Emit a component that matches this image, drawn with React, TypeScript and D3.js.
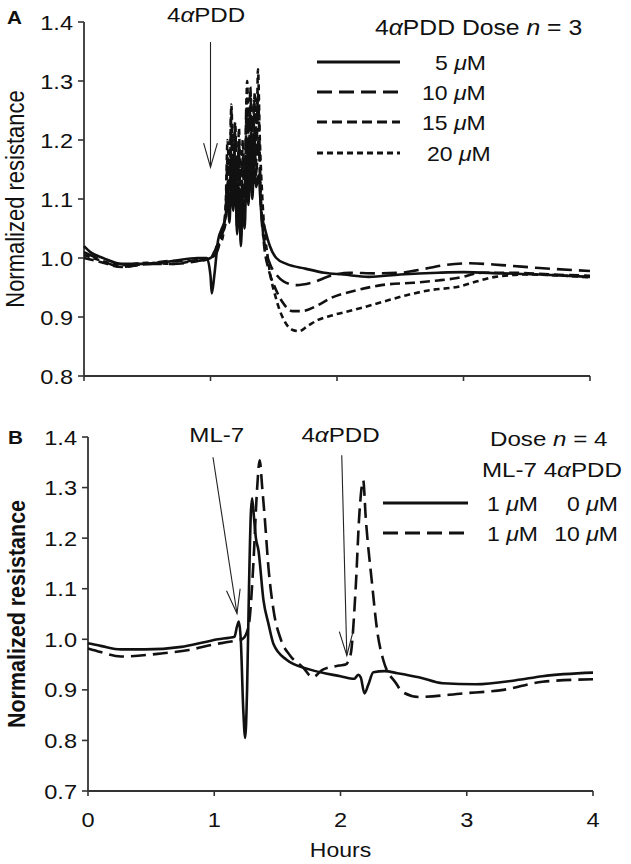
import React from "react";
import * as d3 from "d3";

// ---------- data ----------
const hourTicks = [0, 1, 2, 3, 4];
const yTicksA = [0.8, 0.9, 1.0, 1.1, 1.2, 1.3, 1.4];
const yTicksB = [0.7, 0.8, 0.9, 1.0, 1.1, 1.2, 1.3, 1.4];

// Panel A: 4αPDD dose series [hours, normalized resistance]
const dose5: [number, number][] = [
  [0, 1.02], [0.05, 1.01], [0.15, 1.0], [0.3, 0.99], [0.5, 0.99], [0.7, 0.995], [0.9, 1.0], [0.97, 1.0],
  [1.0, 0.97], [1.01, 0.94], [1.03, 0.97], [1.06, 1.03], [1.09, 1.05],
  [1.12, 1.07], [1.135, 1.11], [1.15, 1.06], [1.165, 1.14], [1.18, 1.08], [1.195, 1.16], [1.21, 1.04],
  [1.225, 1.12], [1.24, 1.02], [1.255, 1.1], [1.27, 1.05], [1.285, 1.15], [1.3, 1.09], [1.315, 1.18],
  [1.33, 1.1], [1.345, 1.16], [1.36, 1.12], [1.38, 1.14], [1.4, 1.08], [1.43, 1.05],
  [1.47, 1.02], [1.52, 1.0], [1.6, 0.99], [1.75, 0.982], [1.9, 0.975], [2.05, 0.972], [2.25, 0.968],
  [2.5, 0.972], [2.8, 0.975], [3.0, 0.976], [3.3, 0.974], [3.6, 0.972], [4.0, 0.968],
];
const dose10: [number, number][] = [
  [0, 1.01], [0.1, 1.0], [0.3, 0.985], [0.5, 0.99], [0.7, 0.99], [0.9, 0.995], [1.0, 1.0], [1.05, 1.01],
  [1.09, 1.04],
  [1.12, 1.06], [1.135, 1.13], [1.15, 1.08], [1.165, 1.2], [1.18, 1.09], [1.195, 1.22], [1.21, 1.06],
  [1.225, 1.18], [1.24, 1.03], [1.255, 1.15], [1.27, 1.08], [1.285, 1.23], [1.3, 1.1], [1.315, 1.25],
  [1.33, 1.12], [1.345, 1.22], [1.36, 1.14], [1.38, 1.2], [1.4, 1.08], [1.43, 1.02],
  [1.47, 0.99], [1.52, 0.972], [1.58, 0.96], [1.68, 0.954], [1.8, 0.958], [1.95, 0.97], [2.1, 0.975],
  [2.3, 0.974], [2.5, 0.975], [2.7, 0.982], [2.85, 0.988], [3.05, 0.991], [3.3, 0.988], [3.6, 0.983],
  [4.0, 0.978],
];
const dose15: [number, number][] = [
  [0, 1.0], [0.1, 0.995], [0.3, 0.985], [0.5, 0.99], [0.7, 0.995], [0.9, 0.995], [1.0, 1.0], [1.05, 1.02],
  [1.09, 1.04],
  [1.12, 1.08], [1.135, 1.17], [1.15, 1.1], [1.165, 1.25], [1.18, 1.11], [1.195, 1.21], [1.21, 1.05],
  [1.225, 1.2], [1.24, 1.04], [1.255, 1.17], [1.27, 1.09], [1.285, 1.27], [1.3, 1.12], [1.315, 1.29],
  [1.33, 1.14], [1.345, 1.27], [1.36, 1.16], [1.375, 1.28], [1.395, 1.12], [1.42, 1.03],
  [1.46, 0.98], [1.5, 0.955], [1.57, 0.925], [1.65, 0.91], [1.72, 0.91], [1.85, 0.92], [1.95, 0.932],
  [2.15, 0.945], [2.35, 0.954], [2.6, 0.958], [2.8, 0.962], [2.95, 0.966], [3.15, 0.975], [3.4, 0.975],
  [3.7, 0.972], [4.0, 0.97],
];
const dose20: [number, number][] = [
  [0, 1.005], [0.1, 0.998], [0.3, 0.988], [0.5, 0.992], [0.7, 0.99], [0.9, 0.997], [1.0, 1.0], [1.05, 1.02],
  [1.09, 1.03],
  [1.12, 1.09], [1.135, 1.2], [1.15, 1.12], [1.165, 1.26], [1.18, 1.13], [1.195, 1.23], [1.21, 1.07],
  [1.225, 1.22], [1.24, 1.06], [1.255, 1.2], [1.27, 1.1], [1.29, 1.3], [1.305, 1.15], [1.32, 1.27],
  [1.335, 1.17], [1.35, 1.28], [1.365, 1.2], [1.375, 1.32], [1.39, 1.2], [1.41, 1.1],
  [1.46, 0.99], [1.52, 0.93], [1.58, 0.895], [1.65, 0.878], [1.7, 0.876], [1.77, 0.885], [1.85, 0.895],
  [1.95, 0.902], [2.15, 0.913], [2.35, 0.925], [2.55, 0.937], [2.75, 0.946], [2.95, 0.951], [3.1, 0.96],
  [3.25, 0.968], [3.5, 0.972], [3.8, 0.97], [4.0, 0.967],
];

// Panel B: ML-7 then 4αPDD
const ml7Only: [number, number][] = [
  [0, 0.992], [0.1, 0.987], [0.26, 0.98], [0.45, 0.98], [0.74, 0.985], [0.9, 0.993], [1.03, 1.0],
  [1.12, 1.003], [1.16, 1.005], [1.18, 1.025], [1.195, 1.035], [1.21, 1.0], [1.23, 0.86], [1.245, 0.805],
  [1.26, 0.9], [1.275, 1.1], [1.29, 1.25], [1.3, 1.279], [1.315, 1.24], [1.33, 1.2], [1.35, 1.176],
  [1.39, 1.077], [1.43, 1.03], [1.47, 0.99], [1.57, 0.96], [1.76, 0.94], [2.0, 0.927], [2.11, 0.922],
  [2.14, 0.93], [2.16, 0.925], [2.19, 0.893], [2.22, 0.91], [2.26, 0.935], [2.35, 0.937], [2.45, 0.933],
  [2.62, 0.925], [2.81, 0.913], [3.07, 0.911], [3.39, 0.919], [3.6, 0.927], [4.0, 0.934],
];
const ml7Pdd: [number, number][] = [
  [0, 0.982], [0.1, 0.975], [0.26, 0.966], [0.58, 0.972], [0.8, 0.979], [1.0, 0.99], [1.12, 0.995],
  [1.18, 0.998], [1.22, 1.0], [1.26, 1.015], [1.28, 1.04], [1.31, 1.15], [1.34, 1.3], [1.36, 1.354],
  [1.38, 1.3], [1.4, 1.24], [1.43, 1.14], [1.47, 1.057], [1.53, 0.998], [1.6, 0.968], [1.7, 0.945],
  [1.78, 0.925], [1.86, 0.94], [1.99, 0.948], [2.04, 0.95], [2.08, 0.97], [2.12, 1.1], [2.15, 1.25],
  [2.18, 1.314], [2.2, 1.24], [2.25, 1.11], [2.29, 1.018], [2.34, 0.958], [2.44, 0.913], [2.49, 0.896],
  [2.62, 0.886], [2.97, 0.893], [3.29, 0.9], [3.6, 0.916], [4.0, 0.921],
];

const legendA = ["5", "10", "15", "20"];
const legendB = [["1", "0"], ["1", "10"]];

// ---------- layout ----------
const W = 631;
const H = 864;
const FONT = "'Liberation Sans', Arial, Helvetica, sans-serif";
const SX = 1.15;
const INK = "#111";

const xA = d3.scaleLinear().domain([0, 4]).range([84, 590]);
const yA = d3.scaleLinear().domain([0.8, 1.4]).range([376, 22]);
const xB = d3.scaleLinear().domain([0, 4]).range([88, 593]);
const yB = d3.scaleLinear().domain([0.7, 1.4]).range([791, 437]);

const DASH_SOLID = "none";
const DASH_LONG = "15 7";
const DASH_MED = "10 5";
const DASH_SHORT = "6 4";

function T(props: {
  x: number; y: number; size: number; anchor?: string; weight?: string; rotate?: number;
  children: React.ReactNode;
}) {
  const { x, y, size, anchor = "start", weight = "normal", rotate = 0, children } = props;
  const tr = `translate(${x},${y}) scale(${SX},1)` + (rotate ? ` rotate(${rotate})` : "");
  return (
    <text transform={tr} fontSize={size} textAnchor={anchor as any} fontWeight={weight} fontFamily={FONT} fill={INK}>
      {children}
    </text>
  );
}

const Alpha = () => <tspan fontStyle="italic">α</tspan>;
const Mu = () => <tspan fontStyle="italic">μ</tspan>;

function Axes(props: { x: d3.ScaleLinear<number, number>; y: d3.ScaleLinear<number, number>; yTicks: number[]; xLabels: boolean }) {
  const { x, y, yTicks, xLabels } = props;
  const [x0, x1] = x.range();
  const [yb, yt] = y.range();
  const fmt = d3.format(".1f");
  return (
    <g>
      <line x1={x0} x2={x0} y1={yt} y2={yb} stroke="#333" strokeWidth={1.8} />
      <line x1={x0} x2={x1} y1={yb} y2={yb} stroke="#333" strokeWidth={1.8} />
      {yTicks.map((t) => (
        <g key={"y" + t}>
          <line x1={x0 - 6} x2={x0} y1={y(t)} y2={y(t)} stroke="#333" strokeWidth={1.6} />
          <T x={x0 - 11} y={y(t) + 7.5} size={20.5} anchor="end">{fmt(t)}</T>
        </g>
      ))}
      {hourTicks.map((t) => (
        <g key={"x" + t}>
          <line x1={x(t)} x2={x(t)} y1={yb} y2={yb + 5} stroke="#333" strokeWidth={1.6} />
          {xLabels && <T x={x(t)} y={yb + 36} size={20.5} anchor="middle">{t}</T>}
        </g>
      ))}
    </g>
  );
}

function Arrow(props: { x1: number; y1: number; x2: number; y2: number }) {
  const { x1, y1, x2, y2 } = props;
  const ang = Math.atan2(y2 - y1, x2 - x1);
  const len = 25;
  const spread = (16 * Math.PI) / 180;
  const a1 = ang + Math.PI - spread;
  const a2 = ang + Math.PI + spread;
  return (
    <g stroke="#222" strokeWidth={1.1} fill="none">
      <line x1={x1} y1={y1} x2={x2} y2={y2} />
      <polyline
        points={`${x2 + len * Math.cos(a1)},${y2 + len * Math.sin(a1)} ${x2},${y2} ${x2 + len * Math.cos(a2)},${y2 + len * Math.sin(a2)}`}
      />
    </g>
  );
}

export default function App() {
  const lineA = d3.line<[number, number]>().x((d) => xA(d[0])).y((d) => yA(d[1])).curve(d3.curveMonotoneX);
  const lineB = d3.line<[number, number]>().x((d) => xB(d[0])).y((d) => yB(d[1])).curve(d3.curveMonotoneX);

  const seriesA = [
    { data: dose5, dash: DASH_SOLID },
    { data: dose10, dash: DASH_LONG },
    { data: dose15, dash: DASH_MED },
    { data: dose20, dash: DASH_SHORT },
  ];
  const seriesB = [
    { data: ml7Only, dash: DASH_SOLID },
    { data: ml7Pdd, dash: DASH_LONG },
  ];
  const legendDashA = [DASH_SOLID, DASH_LONG, DASH_MED, DASH_SHORT];
  const legendXA = [435, 422, 422, 427];
  const legendYA = [62, 92, 122, 153];

  return (
    <svg width={W} height={H} viewBox={`0 0 ${W} ${H}`} style={{ position: "absolute", left: 0, top: 0, background: "#fff" }}>
      <rect width={W} height={H} fill="#fff" />

      {/* Panel A */}
      <T x={7} y={24} size={18} weight="bold">A</T>
      <T x={24} y={(yA(0.8) + yA(1.4)) / 2} size={22} anchor="middle" rotate={-90}>Normalized resistance</T>
      <Axes x={xA} y={yA} yTicks={yTicksA} xLabels={false} />
      {seriesA.map((s, i) => (
        <path key={i} d={lineA(s.data) || ""} fill="none" stroke={INK} strokeWidth={2.6} strokeDasharray={s.dash} strokeLinejoin="round" />
      ))}
      <T x={xA(0.965)} y={22} size={21} anchor="middle">4<Alpha />PDD</T>
      <Arrow x1={xA(1.0)} y1={yA(1.366)} x2={xA(1.0)} y2={yA(1.154)} />
      <T x={375} y={35} size={21.5}>4<Alpha />PDD Dose <tspan fontStyle="italic">n</tspan> = 3</T>
      {legendA.map((l, i) => (
        <g key={l}>
          <line x1={317} x2={400} y1={legendYA[i]} y2={legendYA[i]} stroke={INK} strokeWidth={3} strokeDasharray={legendDashA[i]} />
          <T x={legendXA[i]} y={legendYA[i] + 8} size={20}>{l} <Mu />M</T>
        </g>
      ))}

      {/* Panel B */}
      <T x={8} y={444} size={18} weight="bold">B</T>
      <T x={25} y={(yB(0.7) + yB(1.4)) / 2} size={21.5} anchor="middle" rotate={-90} weight="bold">Normalized resistance</T>
      <Axes x={xB} y={yB} yTicks={yTicksB} xLabels={true} />
      {seriesB.map((s, i) => (
        <path key={i} d={lineB(s.data) || ""} fill="none" stroke={INK} strokeWidth={2.6} strokeDasharray={s.dash} strokeLinejoin="round" />
      ))}
      <T x={xB(1.02)} y={442} size={21} anchor="middle">ML-7</T>
      <Arrow x1={xB(0.99)} y1={yB(1.36)} x2={xB(1.18)} y2={yB(1.051)} />
      <T x={xB(2.0)} y={442} size={21} anchor="middle">4<Alpha />PDD</T>
      <Arrow x1={xB(2.01)} y1={yB(1.364)} x2={xB(2.05)} y2={yB(0.968)} />
      <T x={490} y={446} size={21}>Dose <tspan fontStyle="italic">n</tspan> = 4</T>
      <T x={482} y={477} size={21}>ML-7 4<Alpha />PDD</T>
      {legendB.map((row, i) => (
        <g key={i}>
          <line x1={383} x2={468} y1={503 + i * 30} y2={503 + i * 30} stroke={INK} strokeWidth={3} strokeDasharray={i === 0 ? DASH_SOLID : DASH_LONG} />
          <T x={487} y={511 + i * 30} size={20}>{row[0]} <Mu />M</T>
          <T x={618} y={511 + i * 30} size={20} anchor="end">{row[1]} <Mu />M</T>
        </g>
      ))}
      <T x={(xB(0) + xB(4)) / 2} y={857} size={20} anchor="middle">Hours</T>
    </svg>
  );
}
